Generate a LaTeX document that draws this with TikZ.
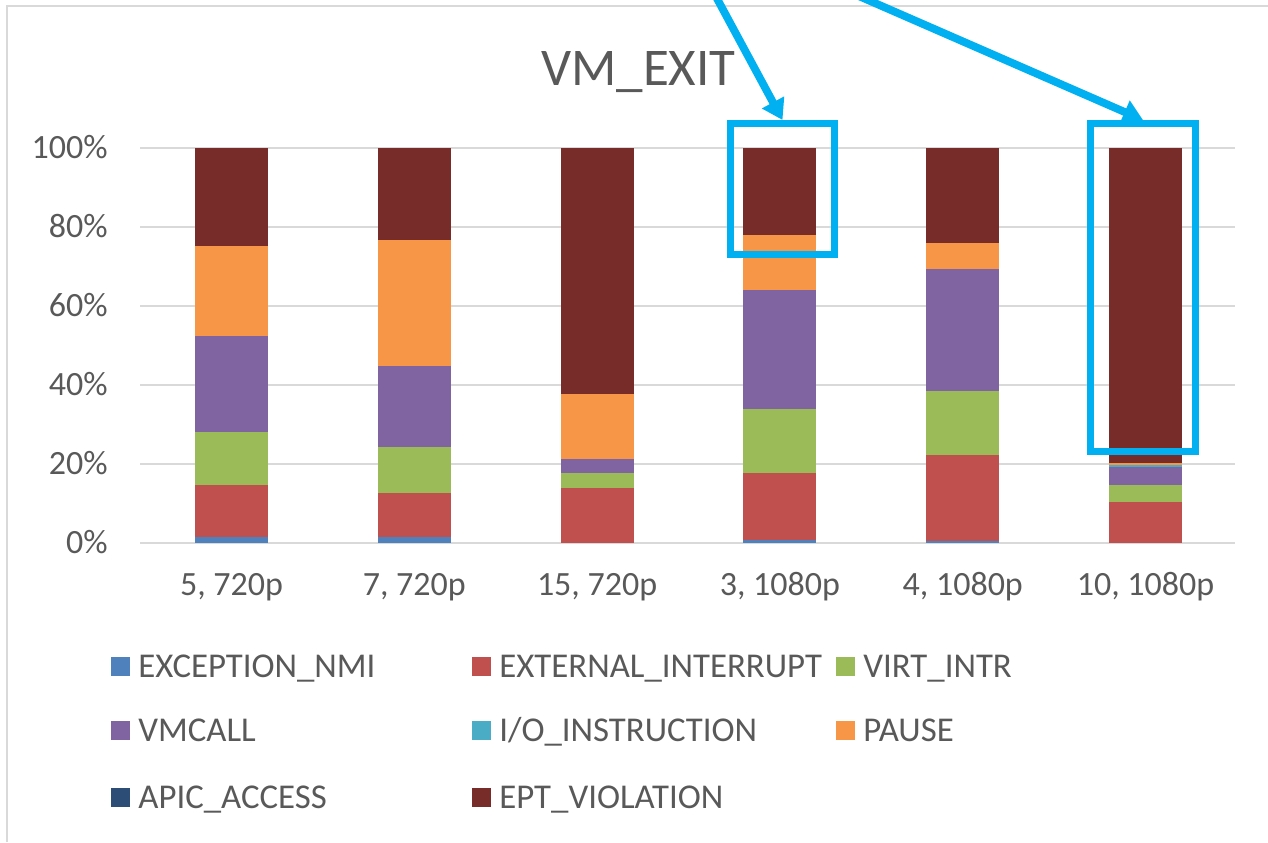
\documentclass[tikz,border=0pt]{standalone}
\usepackage{fontspec}
\setmainfont{Carlito}
\usetikzlibrary{arrows.meta}

% Office 2010 series palette
\definecolor{cNMI}{HTML}{4F81BD}
\definecolor{cEXT}{HTML}{C0504D}
\definecolor{cVIRT}{HTML}{9BBB59}
\definecolor{cVMC}{HTML}{8064A2}
\definecolor{cIO}{HTML}{4BACC6}
\definecolor{cPAU}{HTML}{F79646}
\definecolor{cAPIC}{HTML}{2C4D75}
\definecolor{cEPT}{HTML}{772C2A}
\definecolor{txtc}{HTML}{595959}
\definecolor{gridc}{HTML}{D9D9D9}
\definecolor{framec}{HTML}{D9D9D9}
\definecolor{hilite}{HTML}{00B0F0}

\tikzset{
  lbl/.style={text=txtc, font=\fontsize{17pt}{20pt}\selectfont, inner sep=0pt},
  ylab/.style={lbl, anchor=base east},
  xlab/.style={lbl, anchor=base},
  legtext/.style={lbl, anchor=base west, font=\fontsize{17.4pt}{20pt}\selectfont},
  legsq/.style={minimum width=9.5pt, minimum height=9.5pt, inner sep=0pt, draw=none},
  hlbox/.style={draw=hilite, line width=3.5pt, inner sep=0pt, fill=none},
  hlarrow/.style={draw=hilite, line width=3.9pt, -{Triangle[length=10pt,width=12pt]}},
}

\begin{document}
\begin{tikzpicture}[x=0.5pt, y=-0.5pt]
\useasboundingbox (0,0) rectangle (1268,842);
\clip (0,0) rectangle (1268,842);

% chart frame (top and left edges)
\draw[framec, line width=1.2pt] (7,842) -- (7,6) -- (1268,6);

% title
\node[lbl, anchor=base, font=\fontsize{26.5pt}{30pt}\selectfont] (title) at (638.5,85) {VM\_EXIT};

% gridlines and value axis labels
\foreach \k in {0,...,5} {
  \pgfmathsetmacro\gy{543-79*\k}
  \pgfmathtruncatemacro\pct{20*\k}
  \draw[gridc, line width=1pt] (140,\gy) -- (1235,\gy);
  \node[ylab] (y\k) at (108,\gy+10) {\pct\%};
}

% stacked bars: colour / cumulative top (percent)
\foreach \i/\lst in {
  0/{cNMI/1.6,cEXT/14.8,cVIRT/28.0,cVMC/52.4,cPAU/75.2,cEPT/100},
  1/{cNMI/1.6,cEXT/12.6,cVIRT/24.3,cVMC/44.9,cPAU/76.7,cEPT/100},
  2/{cEXT/14.0,cVIRT/17.6,cVMC/21.3,cPAU/37.6,cEPT/100},
  3/{cNMI/0.8,cEXT/17.7,cVIRT/33.9,cVMC/64.1,cPAU/78.0,cEPT/100},
  4/{cNMI/0.6,cEXT/22.3,cVIRT/38.5,cVMC/69.3,cPAU/75.9,cEPT/100},
  5/{cEXT/10.3,cVIRT/14.6,cVMC/19.3,cIO/19.8,cPAU/20.3,cEPT/100}} {
  \pgfmathsetmacro\bx{231.5+182.8*\i}
  \xdef\prev{0}
  \foreach \c/\t in \lst {
    \fill[\c] (\bx-36.5,{543-3.95*\prev}) rectangle (\bx+36.5,{543-3.95*\t});
    \xdef\prev{\t}
  }
}

% category labels
\foreach \i/\txt in {0/{5, 720p},1/{7, 720p},2/{15, 720p},3/{3, 1080p},4/{4, 1080p},5/{10, 1080p}} {
  \node[xlab] (x\i) at ({231.5+182.8*\i},595) {\txt};
}

% legend
\foreach \n/\col/\cx/\cy/\txt in {
  nmi/cNMI/120/666/EXCEPTION\_NMI,
  ext/cEXT/481/666/EXTERNAL\_INTERRUPT,
  virt/cVIRT/845/666/VIRT\_INTR,
  vmc/cVMC/120/730/VMCALL,
  io/cIO/481/730/{I/O\_INSTRUCTION},
  pau/cPAU/845/730/PAUSE,
  apic/cAPIC/120/797/APIC\_ACCESS,
  ept/cEPT/481/797/EPT\_VIOLATION} {
  \node[legsq, fill=\col] (sq-\n) at (\cx,\cy) {};
  \node[legtext] (lg-\n) at (\cx+18,\cy+11) {\txt};
}

% highlight frames and pointers
\node[hlbox, minimum width=52pt, minimum height=65.5pt] (box1) at (782.5,189) {};
\node[hlbox, minimum width=52.5pt, minimum height=164pt] (box2) at (1143,287.5) {};
\coordinate (p1) at (707,-20);
\coordinate (p2) at (822,-20);
\draw[hlarrow] (p1) -- (box1.north);
\draw[hlarrow] (p2) -- (box2.north);
\end{tikzpicture}
\end{document}
